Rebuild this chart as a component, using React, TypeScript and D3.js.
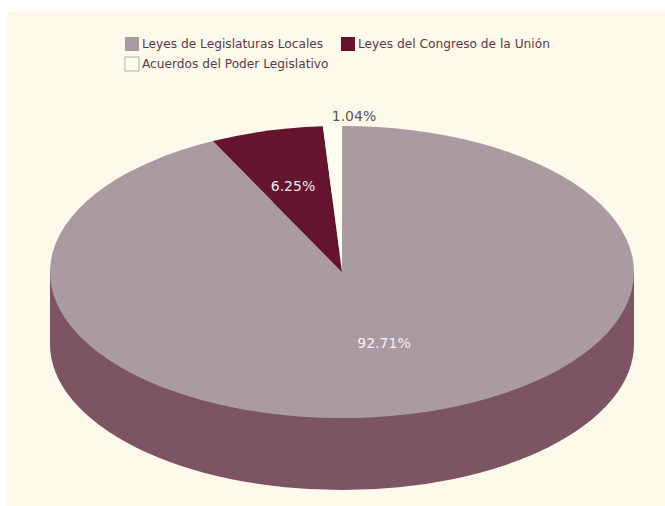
import React from "react";
import * as d3 from "d3";

const categories = ["Leyes de Legislaturas Locales", "Leyes del Congreso de la Unión", "Acuerdos del Poder Legislativo"];
const values = [92.71, 6.25, 1.04];
const labels = ["92.71%", "6.25%", "1.04%"];
const colors = ["#a99ba1", "#64142f", "#fffcf0"];
const sideColor = "#7d5464";

const W = 665, H = 506;
const cx = 342, cy = 272, rx = 292, ry = 146, depth = 72;

export default function App() {
  const pie = d3.pie<number>().sort(null)(values);
  const arc = d3.arc<d3.PieArcDatum<number>>().innerRadius(0).outerRadius(rx);
  const full = d3.arc()({ innerRadius: 0, outerRadius: rx, startAngle: 0, endAngle: Math.PI * 2 } as any) as string;
  const font = "'DejaVu Sans', Verdana, sans-serif";
  const labelPos: [number, number, string][] = [
    [384, 348, "#f5eff0"],
    [293, 191, "#f5e6ea"],
    [354, 121, "#5a5450"],
  ];
  const legend: [number, number][] = [[125, 43], [341, 43], [125, 63]];
  return (
    <svg width={W} height={H} style={{ position: "fixed", left: 0, top: 0 }} fontFamily={font}>
      <rect width={W} height={H} fill="#ffffff" />
      <rect x={7} y={11} width={W - 7} height={H - 11} fill="#fdf9eb" />
      <g transform={`translate(${cx},${cy + depth}) scale(1,${ry / rx})`}>
        <path d={full} fill={sideColor} />
      </g>
      <rect x={cx - rx} y={cy} width={rx * 2} height={depth} fill={sideColor} />
      <g transform={`translate(${cx},${cy}) scale(1,${ry / rx})`}>
        {pie.map((d, i) => (
          <path key={i} d={arc(d) as string} fill={colors[i]} />
        ))}
      </g>
      {pie.map((d, i) => (
        <text key={i} x={labelPos[i][0]} y={labelPos[i][1]} textAnchor="middle" fontSize={14} fill={labelPos[i][2]}>
          {labels[i]}
        </text>
      ))}
      {categories.map((c, i) => (
        <g key={c}>
          <rect x={legend[i][0]} y={legend[i][1] - 6} width={14} height={14} fill={colors[i]} stroke={i === 2 ? "#b5aeaa" : "none"} />
          <text x={legend[i][0] + 17} y={legend[i][1] + 5} fontSize={12.2} fill="#5a3a48">
            {c}
          </text>
        </g>
      ))}
    </svg>
  );
}
